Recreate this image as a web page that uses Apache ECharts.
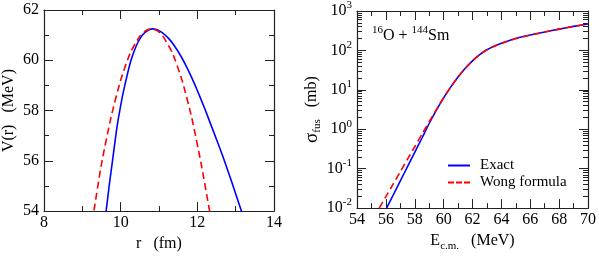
<!DOCTYPE html>
<html><head><meta charset="utf-8">
<script src="https://cdn.jsdelivr.net/npm/echarts@6/dist/echarts.min.js"></script>
<style>html,body{margin:0;padding:0;background:#fff}#c{width:599px;height:257px}</style>
</head><body><div id="c"></div>
<script>
// Left panel: barrier V(r)
const rExact = [9.60, 9.62, 9.70, 9.80, 9.90, 10.00, 10.10, 10.26, 10.40, 10.52, 10.65, 10.82, 10.95, 11.10, 11.25, 11.40, 11.55, 11.70, 11.85, 12.00, 12.20, 12.40, 12.66, 12.90, 13.15, 13.20];
const vExact = [53.8, 54.0, 55.0, 56.15, 57.3, 58.2, 58.95, 59.95, 60.55, 60.9, 61.13, 61.25, 61.21, 61.08, 60.87, 60.58, 60.22, 59.8, 59.32, 58.8, 58.05, 57.25, 56.2, 55.15, 54.0, 53.78];
const rWong = [9.25, 9.30, 9.50, 9.75, 10.00, 10.25, 10.50, 10.65, 10.80, 10.95, 11.10, 11.35, 11.60, 11.85, 12.10, 12.32, 12.37];
const vWong = [53.6, 54.0, 55.88, 57.74, 59.21, 60.29, 60.96, 61.18, 61.25, 61.18, 60.96, 60.29, 59.21, 57.74, 55.88, 54.0, 53.6];
// Right panel: fusion cross section
const eExact = [56.05, 56.5, 57.0, 57.5, 58.0, 58.5, 59.0, 59.5, 60.0, 60.5, 61.0, 61.5, 62.0, 62.5, 63.0, 63.5, 64.0, 65.0, 66.0, 67.0, 68.0, 69.0, 70.0];
const sExact = [0.01, 0.0212, 0.049, 0.113, 0.26, 0.6, 1.4, 3.06, 6.25, 11.9, 21.2, 35.2, 54.5, 78.7, 104, 128, 151, 200, 245, 292, 347, 407, 468];
const eWong = [55.54, 56.0, 56.5, 57.0, 57.5, 58.0, 58.5, 59.0, 59.5, 60.0, 60.5, 61.0, 61.5, 62.0, 62.5, 63.0, 63.5, 64.0, 65.0, 66.0, 67.0, 68.0, 69.0, 70.0];
const sWong = [0.01, 0.0195, 0.0405, 0.084, 0.174, 0.36, 0.75, 1.55, 3.15, 6.3, 11.9, 21.2, 35.2, 54.5, 78.7, 104, 128, 151, 200, 245, 292, 347, 407, 468];
// Tick values
const sMajor = [0.01, 0.1, 1, 10, 100, 1000];
const sMinor = [];
[0.01, 0.1, 1, 10, 100].forEach(d => { for (let k = 2; k <= 9; k++) sMinor.push(+(d * k).toPrecision(3)); });

const FF = 'Liberation Serif';
const AX = '#222';
const zip = (a, b) => a.map((x, i) => [x, b[i]]);
const tickStyle = { color: AX, width: 1 };

function linX(grid, pos, min, max, showLab, name) {
  return {
    gridIndex: grid, type: 'value', position: pos, min: min, max: max, interval: 2,
    axisLine: { show: true, onZero: false, lineStyle: { color: AX, width: 1.2 } },
    axisTick: { inside: true, length: 9, lineStyle: tickStyle },
    minorTick: { show: true, splitNumber: 2, length: 5, lineStyle: tickStyle },
    splitLine: { show: false },
    axisLabel: { show: showLab, margin: 4, fontSize: 16, fontFamily: FF, color: '#000' },
    name: name || '', nameLocation: 'middle', nameGap: 21,
    nameTextStyle: { fontSize: 16, fontFamily: FF, color: '#000',
      rich: { b: { fontSize: 16, fontFamily: FF, lineHeight: 22 }, sub: { fontSize: 11, fontFamily: FF, lineHeight: 11, verticalAlign: 'bottom' } } }
  };
}
function linY(grid, pos, min, max, showLab, name) {
  return {
    gridIndex: grid, type: 'value', position: pos, min: min, max: max, interval: 2,
    axisLine: { show: true, onZero: false, lineStyle: { color: AX, width: 1.2 } },
    axisTick: { inside: true, length: 9, lineStyle: tickStyle },
    minorTick: { show: true, splitNumber: 2, length: 5, lineStyle: tickStyle },
    splitLine: { show: false },
    axisLabel: { show: showLab, margin: 5, fontSize: 16, fontFamily: FF, color: '#000' },
    name: name || '', nameLocation: 'middle', nameGap: 27,
    nameTextStyle: { fontSize: 16, fontFamily: FF, color: '#000' }
  };
}
function logY(pos, ticks, len, showLine, showLab, name) {
  return {
    gridIndex: 1, type: 'log', logBase: 10, position: pos, min: 0.01, max: 1000,
    axisLine: { show: showLine, onZero: false, lineStyle: { color: AX, width: 1.2 } },
    axisTick: { inside: true, length: len, customValues: ticks, lineStyle: tickStyle },
    minorTick: { show: false },
    splitLine: { show: false },
    axisLabel: { show: showLab, margin: 5, customValues: sMajor, fontFamily: FF, color: '#000',
      formatter: v => '{b|10}{s|' + Math.round(Math.log10(v)) + '}',
      rich: { b: { fontSize: 16, fontFamily: FF, lineHeight: 22 }, s: { fontSize: 11, fontFamily: FF, lineHeight: 11, verticalAlign: 'top' } } },
    name: name || '', nameLocation: 'middle', nameGap: 33,
    nameTextStyle: { fontFamily: FF, color: '#000',
      rich: { g: { fontSize: 19, fontFamily: FF, lineHeight: 22 }, b: { fontSize: 16, fontFamily: FF, lineHeight: 22 }, sub: { fontSize: 11, fontFamily: FF, lineHeight: 11, verticalAlign: 'bottom' } } }
  };
}

const blue = '#0000ff', red = '#ff0000';
function ser(name, xi, yi, data, color, dashed) {
  return {
    type: 'line', name: name, xAxisIndex: xi, yAxisIndex: yi, data: data,
    symbol: 'none', showSymbol: false, smooth: 0.2, clip: true,
    lineStyle: { color: color, width: 1.6, type: dashed ? [7, 4] : 'solid' },
    itemStyle: { color: color }
  };
}

const chart = echarts.init(document.getElementById('c'), null, { renderer: 'canvas' });
chart.setOption({
  animation: false,
  backgroundColor: '#fff',
  grid: [
    { left: 40, top: 10, width: 234, height: 206, containLabel: false },
    { left: 357, top: 10, width: 232, height: 206, containLabel: false }
  ],
  xAxis: [
    linX(0, 'bottom', 8, 14, true, 'r   (fm)'),
    linX(0, 'top', 8, 14, false),
    linX(1, 'bottom', 54, 70, true, '{b|E}{sub|c.m.}{b|   (MeV)}'),
    linX(1, 'top', 54, 70, false)
  ],
  yAxis: [
    linY(0, 'left', 54, 62, true, 'V(r)   (MeV)'),
    linY(0, 'right', 54, 62, false),
    logY('left', sMajor, 9, true, true, '{g|σ}{sub|fus}{b|   (mb)}'),
    logY('left', sMinor, 5, false, false),
    logY('right', sMajor, 9, true, false),
    logY('right', sMinor, 5, false, false)
  ],
  legend: {
    data: [
      { name: 'Exact', icon: 'path://M0,0h22v2h-22z' },
      { name: 'Wong formula', icon: 'path://M0,0h6v2h-6z M8,0h6v2h-6z M16,0h6v2h-6z' }
    ],
    orient: 'vertical', left: 448, top: 157,
    itemWidth: 22, itemHeight: 2, itemGap: 0, padding: 0,
    textStyle: { fontSize: 15, fontFamily: FF, color: '#000', lineHeight: 17, padding: [0, 0, 0, 5] }
  },
  graphic: [{
    type: 'text', left: 372, top: 25, silent: true,
    style: {
      text: '{s|16}{b|O + }{s|144}{b|Sm}', fill: '#000',
      rich: { b: { fontSize: 16, fontFamily: FF, lineHeight: 22 }, s: { fontSize: 11, fontFamily: FF, lineHeight: 11, verticalAlign: 'top' } }
    }
  }],
  series: [
    ser('Exact', 0, 0, zip(rExact, vExact), blue, false),
    ser('Wong formula', 0, 0, zip(rWong, vWong), red, true),
    ser('Exact', 2, 2, zip(eExact, sExact), blue, false),
    ser('Wong formula', 2, 2, zip(eWong, sWong), red, true)
  ]
});
</script></body></html>
